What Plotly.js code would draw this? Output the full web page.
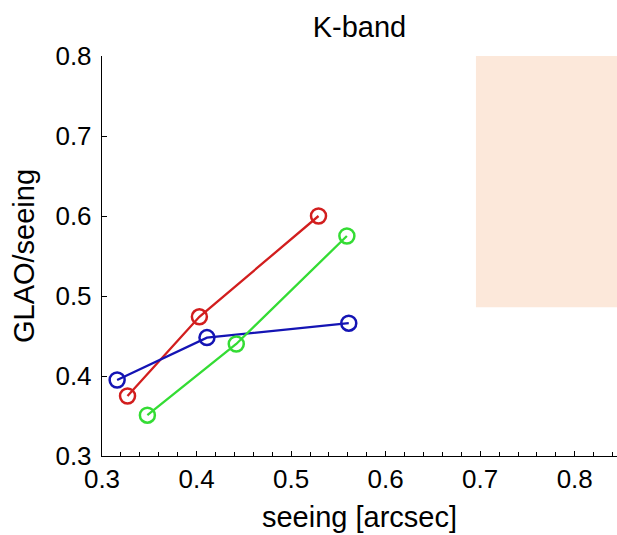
<!DOCTYPE html>
<html>
<head>
<meta charset="utf-8">
<script src="https://cdn.plot.ly/plotly-3.0.1.min.js"></script>
<style>html,body{margin:0;padding:0;background:#fff;}#chart{width:617px;height:535px;}</style>
</head>
<body>
<div id="chart"></div>
<script>
// Data
const redX = [0.327, 0.403, 0.529];
const redY = [0.375, 0.474, 0.600];
const greenX = [0.348, 0.442, 0.559];
const greenY = [0.351, 0.440, 0.575];
const blueX = [0.316, 0.411, 0.561];
const blueY = [0.395, 0.448, 0.466];
const shadeX = [0.6955, 0.86];
const shadeY = [0.486, 0.8];
const xTicks = [0.3, 0.4, 0.5, 0.6, 0.7, 0.8];
const yTicks = [0.3, 0.4, 0.5, 0.6, 0.7, 0.8];

const FONT = 'Liberation Sans, Arial, sans-serif';

function series(x, y, color) {
  return {
    x: x, y: y, type: 'scatter', mode: 'lines+markers',
    line: {color: color, width: 2.3},
    marker: {symbol: 'circle-open', size: 15, color: color, line: {color: color, width: 2.5}},
    showlegend: false, hoverinfo: 'x+y'
  };
}

const data = [
  series(redX, redY, '#D21E1E'),
  series(blueX, blueY, '#1414B4'),
  series(greenX, greenY, '#34DC34')
];

const layout = {
  width: 617, height: 535,
  margin: {l: 102, r: 0, t: 56, b: 79},
  paper_bgcolor: '#ffffff', plot_bgcolor: '#ffffff',
  font: {family: FONT, color: '#000'},
  title: {text: 'K-band', font: {family: FONT, size: 29, color: '#000'},
          x: 0.5, xref: 'paper', xanchor: 'center', y: 1 - 37/535, yref: 'container', yanchor: 'bottom'},
  shapes: [{type: 'rect', xref: 'x', yref: 'y', x0: shadeX[0], x1: shadeX[1], y0: shadeY[0], y1: shadeY[1],
            fillcolor: '#FCE8DA', line: {width: 0}, layer: 'below'}],
  xaxis: {
    range: [0.3, 0.8447], tickvals: xTicks, ticktext: xTicks.map(v => v.toFixed(1)),
    ticks: 'inside', ticklen: 5, tickwidth: 1, tickcolor: '#000',
    minor: {dtick: 0.02, tick0: 0.3, ticks: 'inside', ticklen: 4, tickwidth: 1, tickcolor: '#000', showgrid: false},
    showline: true, linecolor: '#000', linewidth: 1.2, showgrid: false, zeroline: false,
    tickfont: {family: FONT, size: 26, color: '#000'},
    title: {text: 'seeing [arcsec]', font: {family: FONT, size: 29, color: '#000'}, standoff: 13},
    automargin: false
  },
  yaxis: {
    range: [0.3, 0.8], tickvals: yTicks, ticktext: yTicks.map(v => v.toFixed(1)),
    ticks: 'inside', ticklen: 5, tickwidth: 1, tickcolor: '#000',
    ticklabelstandoff: 4,
    showline: true, linecolor: '#000', linewidth: 1.2, showgrid: false, zeroline: false,
    tickfont: {family: FONT, size: 26, color: '#000'},
    title: {text: 'GLAO/seeing', font: {family: FONT, size: 29, color: '#000'}, standoff: 12},
    automargin: false
  }
};

Plotly.newPlot('chart', data, layout, {displayModeBar: false, staticPlot: true});
</script>
</body>
</html>
